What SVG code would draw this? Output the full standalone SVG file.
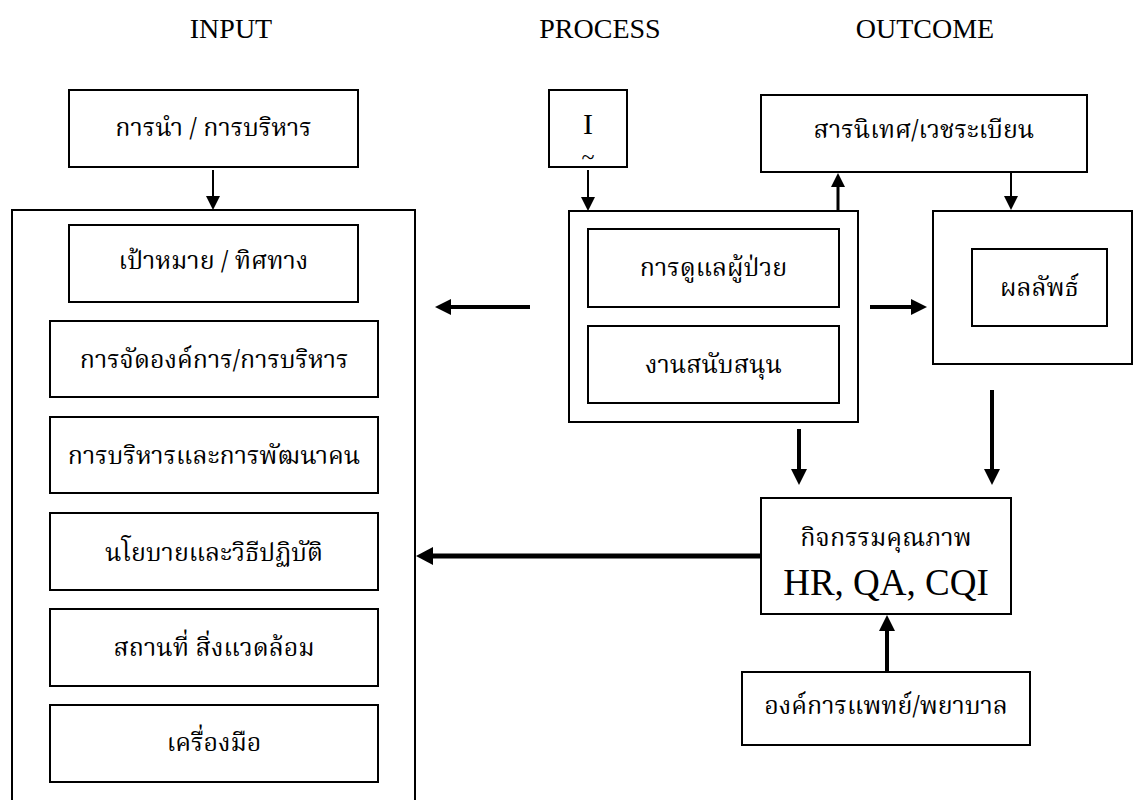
<svg xmlns="http://www.w3.org/2000/svg" width="1135" height="800" viewBox="0 0 1135 800">
  <style>
    .box { fill: #ffffff; stroke: #000000; stroke-width: 2; }
    .frame { fill: none; stroke: #000000; stroke-width: 2; }
    .head { font-family: "Liberation Serif", "Times New Roman", serif; font-size: 28px; fill: #000; text-anchor: middle; }
    .th { font-family: "Noto Serif Thai", "Noto Sans Thai", "Liberation Serif", "DejaVu Serif", serif; font-size: 25px; fill: #000; text-anchor: middle; }
    .en { font-family: "Liberation Serif", "Times New Roman", serif; fill: #000; text-anchor: middle; }
    .ln { stroke: #000000; fill: none; }
  </style>
  <defs>
    <marker id="hSmall" markerUnits="userSpaceOnUse" markerWidth="15" markerHeight="15" refX="0" refY="7" orient="auto">
      <path d="M0,0 L14,7 L0,14 z" fill="#000"/>
    </marker>
    <marker id="hMed" markerUnits="userSpaceOnUse" markerWidth="18" markerHeight="18" refX="0" refY="8" orient="auto">
      <path d="M0,0 L16,8 L0,16 z" fill="#000"/>
    </marker>
    <marker id="hBig" markerUnits="userSpaceOnUse" markerWidth="20" markerHeight="20" refX="0" refY="9" orient="auto">
      <path d="M0,0 L17,9 L0,18 z" fill="#000"/>
    </marker>
  </defs>
  <rect width="1135" height="800" fill="#ffffff"/>

  <!-- column headings -->
  <text class="head" x="231" y="38">INPUT</text>
  <text class="head" x="600" y="38">PROCESS</text>
  <text class="head" x="925" y="38">OUTCOME</text>

  <!-- INPUT column -->
  <g id="leadership">
    <rect class="box" x="69" y="90" width="289" height="77"/>
    <text class="th" x="213.5" y="136">การนำ / การบริหาร</text>
  </g>
  <g id="input-frame">
    <rect class="frame" x="12" y="210" width="403" height="600"/>
  </g>
  <g id="goals">
    <rect class="box" x="69" y="225" width="289" height="77"/>
    <text class="th" x="213.5" y="269">เป้าหมาย / ทิศทาง</text>
  </g>
  <g id="organization">
    <rect class="box" x="50" y="321" width="328" height="76"/>
    <text class="th" x="214" y="368">การจัดองค์การ/การบริหาร</text>
  </g>
  <g id="people">
    <rect class="box" x="50" y="417" width="328" height="76"/>
    <text class="th" x="214" y="464">การบริหารและการพัฒนาคน</text>
  </g>
  <g id="policy">
    <rect class="box" x="50" y="513" width="328" height="77"/>
    <text class="th" x="214" y="561">นโยบายและวิธีปฏิบัติ</text>
  </g>
  <g id="environment">
    <rect class="box" x="50" y="609" width="328" height="77"/>
    <text class="th" x="214" y="656">สถานที่ สิ่งแวดล้อม</text>
  </g>
  <g id="tools">
    <rect class="box" x="50" y="705" width="328" height="77"/>
    <text class="th" x="214" y="751">เครื่องมือ</text>
  </g>

  <!-- PROCESS column -->
  <g id="i-box">
    <rect class="box" x="549" y="90" width="78" height="77"/>
    <text class="en" x="588" y="134" font-size="30">I</text>
    <text class="en" x="588" y="165" font-size="24">~</text>
  </g>
  <g id="process-frame">
    <rect class="box" x="569" y="211" width="289" height="211"/>
  </g>
  <g id="patient-care">
    <rect class="box" x="588" y="229" width="251" height="78"/>
    <text class="th" x="713.5" y="276">การดูแลผู้ป่วย</text>
  </g>
  <g id="support">
    <rect class="box" x="588" y="326" width="251" height="77"/>
    <text class="th" x="713.5" y="373">งานสนับสนุน</text>
  </g>

  <!-- OUTCOME column -->
  <g id="records">
    <rect class="box" x="761" y="95" width="326" height="77"/>
    <text class="th" x="924" y="138">สารนิเทศ/เวชระเบียน</text>
  </g>
  <g id="outcome-frame">
    <rect class="box" x="933" y="211" width="199" height="153"/>
  </g>
  <g id="results">
    <rect class="box" x="972" y="249" width="135" height="77"/>
    <text class="th" x="1039.5" y="296">ผลลัพธ์</text>
  </g>
  <g id="quality">
    <rect class="box" x="761" y="498" width="250" height="116"/>
    <text class="th" x="886" y="546">กิจกรรมคุณภาพ</text>
    <text class="en" x="886" y="595" font-size="37">HR, QA, CQI</text>
  </g>
  <g id="professional">
    <rect class="box" x="742" y="672" width="288" height="73"/>
    <text class="th" x="886" y="714">องค์การแพทย์/พยาบาล</text>
  </g>

  <!-- connectors -->
  <g id="connectors">
    <line class="ln" stroke-width="2" x1="213" y1="170" x2="213" y2="196" marker-end="url(#hSmall)"/>
    <line class="ln" stroke-width="2" x1="588" y1="170" x2="588" y2="197" marker-end="url(#hSmall)"/>
    <line class="ln" stroke-width="3" x1="838" y1="211" x2="838" y2="187" marker-end="url(#hSmall)"/>
    <line class="ln" stroke-width="2" x1="1011" y1="172" x2="1011" y2="196" marker-end="url(#hSmall)"/>
    <line class="ln" stroke-width="4" x1="530" y1="307" x2="451" y2="307" marker-end="url(#hMed)"/>
    <line class="ln" stroke-width="4" x1="870" y1="307" x2="911" y2="307" marker-end="url(#hMed)"/>
    <line class="ln" stroke-width="4" x1="799" y1="429" x2="799" y2="469" marker-end="url(#hMed)"/>
    <line class="ln" stroke-width="4" x1="992" y1="390" x2="992" y2="469" marker-end="url(#hMed)"/>
    <line class="ln" stroke-width="5" x1="761" y1="556" x2="433" y2="556" marker-end="url(#hBig)"/>
    <line class="ln" stroke-width="4" x1="887" y1="672" x2="887" y2="631" marker-end="url(#hMed)"/>
  </g>
</svg>
